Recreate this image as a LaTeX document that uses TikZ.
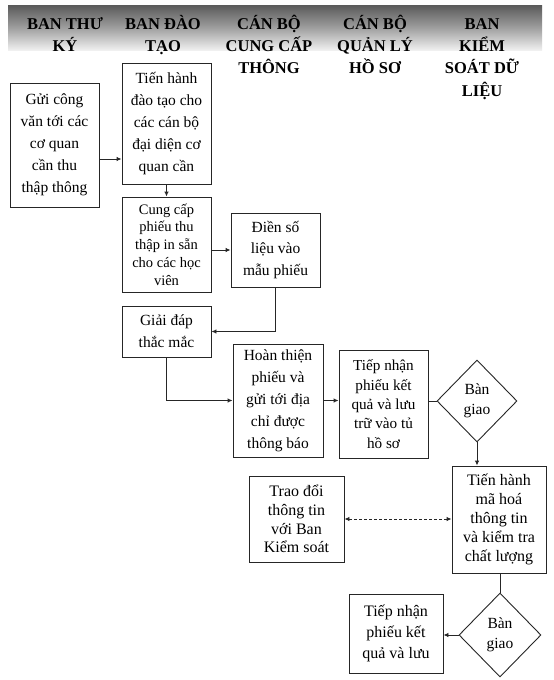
\documentclass[tikz,border=0pt]{standalone}
\usepackage{fontspec}
\setmainfont{Liberation Serif}
\usetikzlibrary{shapes.geometric,arrows.meta}
\begin{document}
\begin{tikzpicture}[x=1pt,y=-1pt,
  stepbox/.style={draw=black!85,line width=0.9pt,align=center,inner sep=0pt,
    font=\fontsize{15.5}{22}\selectfont},
  decide/.style={draw=black!85,line width=0.9pt,diamond,align=center,inner sep=0pt,
    font=\fontsize{15.5}{20}\selectfont},
  head/.style={align=center,inner sep=0pt,anchor=north,
    font=\bfseries\fontsize{16.5}{22.3}\selectfont},
  arr/.style={draw=black!85,line width=0.9pt,-{Latex[length=5pt,width=4.5pt]}},
  plain/.style={draw=black!85,line width=0.9pt},
  dasharr/.style={draw=black!85,line width=0.9pt,dashed,dash pattern=on 3pt off 2pt,
    {Latex[length=5pt,width=4.5pt]}-{Latex[length=5pt,width=4.5pt]}}]
\useasboundingbox (0,0) rectangle (554,680);
\fill[white] (0,0) rectangle (554,680);
% header band
\shade[top color=black!65,bottom color=black!6,middle color=black!38] (8,5) rectangle (542,50);
\node[head] (h1) at (65,13.5) {\strut BAN THƯ\\KÝ};
\node[head] (h2) at (163,13.5) {\strut BAN ĐÀO\\TẠO};
\node[head] (h3) at (269,13.5) {\strut CÁN BỘ\\CUNG CẤP\\THÔNG};
\node[head] (h4) at (375,13.5) {\strut CÁN BỘ\\QUẢN LÝ\\HỒ SƠ};
\node[head] (h5) at (482,13.5) {\strut BAN\\KIỂM\\SOÁT DỮ\\LIỆU};
% boxes
\node[stepbox,minimum width=89,minimum height=124] (b1) at (54.5,145)
  {Gửi công\\văn tới các\\cơ quan\\cần thu\\thập thông};
\node[stepbox,minimum width=89,minimum height=121] (b2) at (166.5,123.5)
  {Tiến hành\\đào tạo cho\\các cán bộ\\đại diện cơ\\quan cần};
\node[stepbox,minimum width=89,minimum height=95,font=\fontsize{14.5}{17.7}\selectfont] (b3) at (166.5,244.5)
  {Cung cấp\\phiếu thu\\thập in sẵn\\cho các học\\viên};
\node[stepbox,minimum width=89,minimum height=74,font=\fontsize{15.5}{21.5}\selectfont] (b4) at (275.5,250)
  {Điền số\\liệu vào\\mẫu phiếu};
\node[stepbox,minimum width=89,minimum height=51] (b5) at (166.5,331.5)
  {Giải đáp\\thắc mắc};
\node[stepbox,minimum width=90,minimum height=113] (b6) at (278,400.5)
  {Hoàn thiện\\phiếu và\\gửi tới địa\\chỉ được\\thông báo};
\node[stepbox,minimum width=89,minimum height=108,font=\fontsize{15.2}{19.3}\selectfont] (b7) at (383.5,404)
  {Tiếp nhận\\phiếu kết\\quả và lưu\\trữ vào tủ\\hồ sơ};
\node[decide,minimum width=80,minimum height=82] (d1) at (477,401) {Bàn\\giao};
\node[stepbox,minimum width=94,minimum height=107,font=\fontsize{16}{19}\selectfont] (b8) at (499,519.5)
  {Tiến hành\\mã hoá\\thông tin\\và kiểm tra\\chất lượng};
\node[stepbox,minimum width=95,minimum height=86,font=\fontsize{16}{18.7}\selectfont] (b9) at (296.5,519)
  {Trao đổi\\thông tin\\với Ban\\Kiểm soát};
\node[decide,minimum width=82,minimum height=84] (d2) at (500,635) {Bàn\\giao};
\node[stepbox,minimum width=94,minimum height=79,font=\fontsize{16}{21}\selectfont] (b10) at (396,633.5)
  {Tiếp nhận\\phiếu kết\\quả và lưu};
% connectors
\draw[arr] ([yshift=-14]b1.east) -- ([yshift=-14]b1.east -| b2.west);
\draw[arr] (b2.south) -- (b3.north);
\draw[arr] (b4.west -| b3.east) -- (b4.west);
\draw[arr] (b4.south) |- (b5.east);
\draw[arr] (b5.south) |- (b6.west);
\draw[arr] (b6.east) -- (b6.east -| b7.west);
\draw[plain] (d1.west -| b7.east) -- (d1.west);
\draw[arr] (d1.south) -- (d1.south |- b8.north);
\draw[dasharr] (b9.east) -- (b9.east -| b8.west);
\draw[plain] (b8.south -| d2.north) -- (d2.north);
\draw[arr] (d2.west) -- (d2.west -| b10.east);
\end{tikzpicture}
\end{document}
